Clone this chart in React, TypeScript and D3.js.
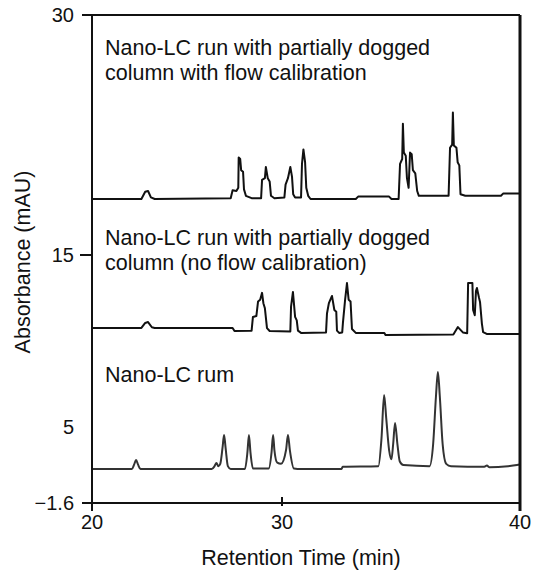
import React from "react";
import { scaleLinear, line, curveLinear, curveMonotoneX } from "d3";

const width = 533;
const height = 571;

// axis breaks of the composite figure (each stretch has its own spacing)
const xTicks = [20, 30, 40];
const yTicks = [-1.6, 5, 15, 30];
const yTickLabels = ["\u22121.6", "5", "15", "30"];

// top trace: partially clogged column with flow calibration
const flowCalTrace: [number, number][] = [
  [20, 18.5], [22.6, 18.5], [22.8, 18.95], [22.95, 19.0], [23.1, 18.6], [23.3, 18.5],
  [27.3, 18.55], [27.4, 19.05], [27.6, 19.0], [27.7, 19.2], [27.72, 21.1], [27.8, 21.0],
  [27.85, 20.3], [27.95, 20.2], [28.0, 19.1], [28.1, 18.7], [28.4, 18.55], [28.9, 18.55],
  [28.95, 19.7], [29.1, 19.8], [29.15, 20.5], [29.25, 19.8], [29.35, 19.6], [29.42, 18.7],
  [29.6, 18.55], [30.1, 18.6], [30.15, 19.4], [30.25, 19.8], [30.35, 20.5], [30.42, 19.9],
  [30.47, 18.8], [30.55, 18.6], [30.8, 18.6], [30.84, 20.7], [30.9, 21.6], [30.97, 20.8],
  [31.02, 19.2], [31.1, 18.7], [31.2, 18.5], [33.1, 18.5], [33.2, 18.65], [34.5, 18.65],
  [34.6, 18.5], [34.9, 18.5], [34.96, 20.7], [35.05, 21.0], [35.08, 23.2], [35.12, 21.4],
  [35.2, 21.2], [35.25, 19.8], [35.32, 19.2], [35.38, 21.4], [35.45, 21.3], [35.5, 20.3],
  [35.6, 20.1], [35.68, 19.0], [35.75, 18.7], [37.0, 18.7], [37.06, 21.7], [37.15, 21.9],
  [37.18, 23.9], [37.22, 21.85], [37.33, 21.7], [37.38, 20.8], [37.45, 20.6], [37.5, 18.8],
  [37.7, 18.7], [39.2, 18.7], [39.3, 18.85], [40, 18.85],
];

// middle trace: partially clogged column, no flow calibration
const noCalTrace: [number, number][] = [
  [20, 10.76], [22.6, 10.76], [22.8, 11.05], [22.95, 11.1], [23.15, 10.8], [23.3, 10.76],
  [27.4, 10.76], [27.5, 10.58], [28.4, 10.6], [28.47, 11.4], [28.65, 11.45], [28.74, 12.3],
  [28.85, 12.4], [28.95, 12.8], [29.02, 12.2], [29.1, 11.9], [29.21, 10.75], [29.35, 10.58],
  [30.35, 10.55], [30.38, 12.0], [30.46, 12.85], [30.55, 11.4], [30.62, 11.2], [30.67, 10.6],
  [30.8, 10.47], [31.85, 10.5], [31.89, 11.6], [31.97, 12.2], [32.1, 12.62], [32.2, 11.8],
  [32.28, 11.7], [32.31, 10.6], [32.4, 10.47], [32.53, 10.5], [32.56, 11.05], [32.65, 12.38],
  [32.73, 13.37], [32.8, 12.4], [32.88, 12.3], [32.94, 10.7], [33.1, 10.47], [34.3, 10.47],
  [34.35, 10.35], [37.2, 10.38], [37.39, 10.81], [37.6, 10.5], [37.78, 10.45], [37.82, 13.37],
  [38.0, 13.37], [38.03, 11.8], [38.1, 11.5], [38.15, 12.9], [38.19, 13.08], [38.28, 12.5],
  [38.32, 12.27], [38.4, 11.0], [38.45, 10.52], [38.6, 10.41], [40, 10.41],
];

// bottom trace: normal nano-LC run
const normalTrace: [number, number][] = [
  [20, 1.35], [22.1, 1.35], [22.22, 1.75], [22.32, 2.14], [22.42, 1.75], [22.55, 1.35],
  [26.3, 1.35], [26.45, 1.6], [26.55, 1.88], [26.65, 1.6], [26.75, 1.8], [26.87, 3.2],
  [26.95, 4.31], [27.03, 3.2], [27.15, 1.6], [27.3, 1.35], [28.05, 1.35], [28.18, 2.8],
  [28.26, 4.31], [28.34, 2.8], [28.47, 1.4], [29.3, 1.4], [29.45, 2.8], [29.53, 4.31],
  [29.6, 3.0], [29.75, 1.9], [29.95, 1.8], [30.17, 3.0], [30.25, 4.31], [30.33, 3.0],
  [30.5, 1.4], [30.8, 1.35], [32.5, 1.35], [32.55, 1.55], [34.05, 1.6], [34.18, 4.0],
  [34.29, 6.86], [34.38, 5.5], [34.5, 3.0], [34.6, 2.2], [34.67, 3.5], [34.75, 5.23],
  [34.85, 3.5], [34.95, 2.0], [35.1, 1.7], [36.2, 1.6], [36.35, 3.5], [36.47, 6.8],
  [36.55, 8.2], [36.63, 6.8], [36.75, 3.5], [36.9, 1.8], [37.1, 1.6], [38.5, 1.55],
  [38.61, 1.65], [38.72, 1.5], [39.5, 1.6], [39.87, 1.7], [40, 1.75],
];

const labels = [
  { lines: ["Nano-LC run with partially dogged", "column with flow calibration"], y: 55 },
  { lines: ["Nano-LC run with partially dogged", "column (no flow calibration)"], y: 245 },
  { lines: ["Nano-LC rum"], y: 382 },
];

const font = "'Liberation Sans', Arial, Helvetica, sans-serif";

const App = () => {
  // piecewise scales, the original figure is stitched together
  const xScale = scaleLinear().domain(xTicks).range([92, 282, 520]);
  const yScale = scaleLinear().domain(yTicks).range([503, 427, 255, 15]);

  const stepLine = line<[number, number]>()
    .x((d) => xScale(d[0]))
    .y((d) => yScale(d[1]))
    .curve(curveLinear);

  const smoothLine = line<[number, number]>()
    .x((d) => xScale(d[0]))
    .y((d) => yScale(d[1]))
    .curve(curveMonotoneX);

  const x0 = xScale(20);
  const x1 = xScale(40);
  const yTop = yScale(30);
  const yBot = yScale(-1.6);

  return (
    <svg
      width={width}
      height={height}
      style={{ position: "absolute", left: 0, top: 0, background: "white" }}
      fontFamily={font}
      fill="#111"
    >
      {/* traces */}
      <path d={stepLine(flowCalTrace) || ""} fill="none" stroke="#111" strokeWidth={2} strokeLinejoin="round" />
      <path d={stepLine(noCalTrace) || ""} fill="none" stroke="#111" strokeWidth={2} strokeLinejoin="round" />
      <path d={smoothLine(normalTrace) || ""} fill="none" stroke="#333" strokeWidth={2} strokeLinejoin="round" />

      {/* frame */}
      <line x1={82} x2={x1} y1={yTop} y2={yTop} stroke="#111" strokeWidth={2} />
      <line x1={82} x2={x1} y1={yBot} y2={yBot} stroke="#111" strokeWidth={2} />
      <line x1={x0} x2={x0} y1={yTop} y2={yBot + 8} stroke="#111" strokeWidth={2} />
      <line x1={x1} x2={x1} y1={yTop} y2={yBot + 8} stroke="#111" strokeWidth={3} />

      {/* y ticks */}
      {yTicks.map((t, i) => (
        <g key={t}>
          {t === 15 && <line x1={80} x2={x0} y1={yScale(t)} y2={yScale(t)} stroke="#111" strokeWidth={2} />}
          <text x={74} y={yScale(t)} dy="0.35em" textAnchor="end" fontSize={20}>
            {yTickLabels[i]}
          </text>
        </g>
      ))}

      {/* x ticks */}
      {xTicks.map((t) => (
        <g key={t}>
          {t === 30 && <line x1={xScale(t)} x2={xScale(t)} y1={yBot - 6} y2={yBot + 3} stroke="#111" strokeWidth={2} />}
          <text x={xScale(t)} y={529} textAnchor="middle" fontSize={20}>
            {t}
          </text>
        </g>
      ))}

      {/* axis titles */}
      <text x={301} y={565} textAnchor="middle" fontSize={21.5}>
        Retention Time (min)
      </text>
      <text transform="translate(30,262) rotate(-90)" textAnchor="middle" fontSize={21.5}>
        Absorbance (mAU)
      </text>

      {/* trace labels */}
      {labels.map((l) => (
        <text key={l.y} x={105} y={l.y} fontSize={21.5}>
          {l.lines.map((s, j) => (
            <tspan key={j} x={105} dy={j === 0 ? 0 : 25}>
              {s}
            </tspan>
          ))}
        </text>
      ))}
    </svg>
  );
};

export default App;
